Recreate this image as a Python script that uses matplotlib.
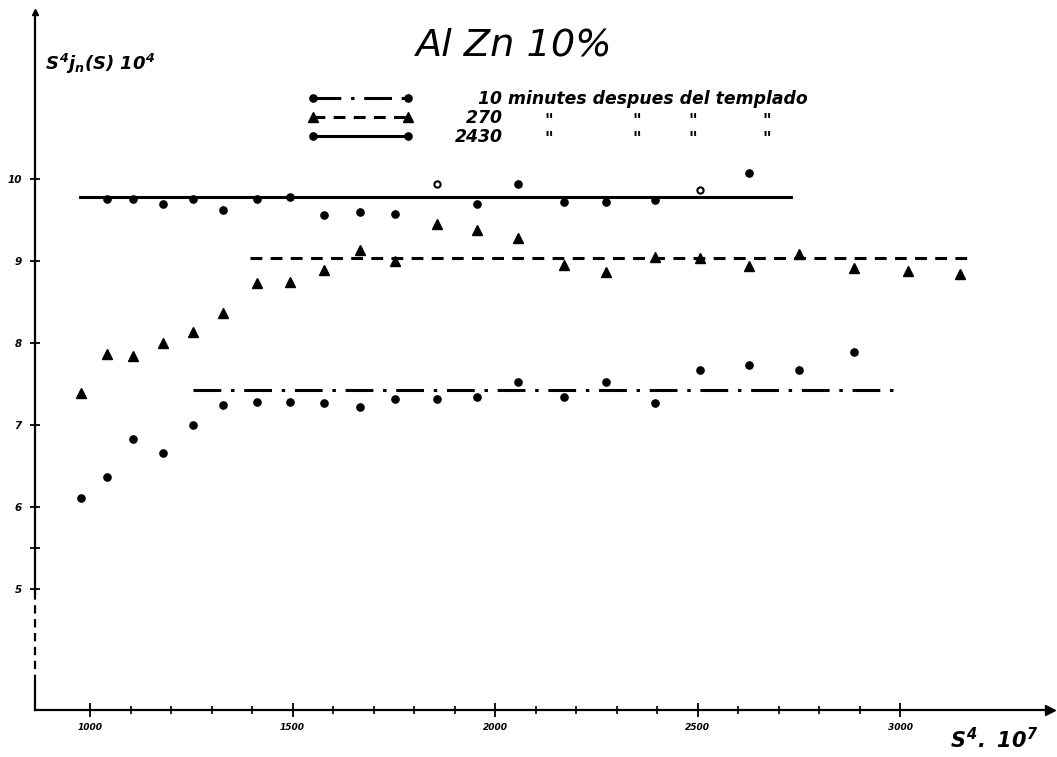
import matplotlib
import matplotlib.pyplot as plt
from matplotlib.lines import Line2D

matplotlib.use("Agg")

plt.rcParams.update({
    "font.family": "DejaVu Sans",
    "mathtext.fontset": "custom",
    "mathtext.rm": "DejaVu Sans:bold:italic",
    "mathtext.it": "DejaVu Sans:bold:italic",
    "mathtext.bf": "DejaVu Sans:bold:italic",
    "lines.scale_dashes": False,
})

# s^4 . 10^7 positions of the measured points
s4 = [977, 1042, 1106, 1179, 1255, 1329, 1413, 1493, 1578, 1666, 1754,
      1856, 1956, 2057, 2169, 2273, 2395, 2505, 2626, 2750, 2887, 3020, 3148]

# 10 minutes after quenching (dots), first 21 positions
t10 = [6.11, 6.36, 6.82, 6.65, 6.99, 7.24, 7.27, 7.28, 7.26, 7.21, 7.31,
       7.31, 7.34, 7.52, 7.33, 7.52, 7.26, 7.67, 7.73, 7.66, 7.88]

# 270 minutes (triangles), all positions
t270 = [7.39, 7.86, 7.83, 7.99, 8.13, 8.36, 8.73, 8.74, 8.88, 9.13, 9.00,
        9.44, 9.37, 9.28, 8.95, 8.86, 9.04, 9.03, 8.93, 9.08, 8.91, 8.87, 8.83]

# 2430 minutes (dots), positions 1..18; two of them drawn hollow
t2430 = [9.75, 9.75, 9.69, 9.75, 9.61, 9.75, 9.77, 9.56, 9.59, 9.57, 9.93,
         9.69, 9.93, 9.71, 9.71, 9.74, 9.86, 10.07]
t2430_open = [10, 16]

# plateau levels and their extents
level_10, span_10 = 7.42, (1255, 2997)
level_270, span_270 = 9.03, (1395, 3179)
level_2430, span_2430 = 9.77, (975, 2731)

DASHED = (0, (8.5, 6))
DASHDOT = (0, (20, 7, 2.5, 7))
LW = 2.2
bi = dict(weight="bold", style="italic")

W, H = 1057, 757
fig = plt.figure(figsize=(W / 100, H / 100), dpi=100)
ax = fig.add_axes([35 / W, 1 - 710 / H, 1015 / W, 698 / H])
ax.set_xlim(864, 3370)
ax.set_ylim(3.52, 12.03)

# fitted plateaus
ax.plot(span_2430, [level_2430] * 2, color="k", lw=LW, ls="-")
ax.plot(span_270, [level_270] * 2, color="k", lw=LW, ls=DASHED)
ax.plot(span_10, [level_10] * 2, color="k", lw=LW, ls=DASHDOT)

# measured points
ax.plot(s4[:len(t10)], t10, "o", color="k", ms=5.2, ls="none")
ax.plot(s4, t270, "^", color="k", ms=7.5, ls="none")
x2430 = s4[1:1 + len(t2430)]
filled = [i for i in range(len(t2430)) if i not in t2430_open]
ax.plot([x2430[i] for i in filled], [t2430[i] for i in filled],
        "o", color="k", ms=5.2, ls="none")
ax.plot([x2430[i] for i in t2430_open], [t2430[i] for i in t2430_open],
        "o", mfc="white", mec="k", mew=1.5, ms=4.5, ls="none")

# axes styling
for side in ("top", "right"):
    ax.spines[side].set_visible(False)
ax.spines["left"].set_linewidth(1.6)
ax.spines["bottom"].set_linewidth(1.6)
ax.spines["left"].set_bounds(4.95, 12.03)
x0 = ax.get_xlim()[0]
ax.plot([x0, x0], [3.85, 4.95], color="k", lw=1.6, ls=(0, (6, 4)),
        clip_on=False)
ax.plot([x0, x0], [3.52, 3.85], color="k", lw=1.6, clip_on=False)
ax.plot(0, 1, "^", color="k", ms=5, transform=ax.transAxes, clip_on=False)
ax.plot(1, 0, ">", color="k", ms=7, transform=ax.transAxes, clip_on=False)

ax.set_yticks([5, 6, 7, 8, 9, 10])
ax.set_yticklabels(["5", "6", "7", "8", "9", "10"], fontsize=7.5, **bi)
ax.set_yticks([5.5], minor=True)
ax.tick_params(axis="y", which="both", direction="inout", length=7,
               width=1.3, pad=6)

ax.set_xticks([1000, 1500, 2000, 2500, 3000])
ax.set_xticklabels(["1000", "1500", "2000", "2500", "3000"],
                   fontsize=6.5, **bi)
ax.set_xticks([v for v in range(1100, 3000, 100) if v % 500], minor=True)
ax.tick_params(axis="x", which="major", direction="inout", length=10,
               width=1.3, pad=4)
ax.tick_params(axis="x", which="minor", direction="inout", length=6,
               width=1.2)

# titles
fig.text(513 / W, 1 - 45 / H, "Al Zn 10%", fontsize=27.5, style="italic",
         ha="center", va="center")
fig.text(45 / W, 1 - 64 / H, r"$S^4 j_n(S)\ 10^4$", fontsize=13,
         ha="left", va="center")
fig.text(950 / W, 1 - 740 / H, r"$S^4 .\ 10^7$", fontsize=15,
         ha="left", va="center")

# key
handles = [
    Line2D([], [], color="k", lw=LW, ls=DASHDOT, marker="o", ms=5.2),
    Line2D([], [], color="k", lw=LW, ls=DASHED, marker="^", ms=7.5),
    Line2D([], [], color="k", lw=LW, ls="-", marker="o", ms=5.2),
]
labels = ["    10 minutes despues del templado", "  270", "2430"]
fig.legend(handles, labels, loc="upper left",
           bbox_to_anchor=(308 / W, 1 - 90 / H), frameon=False, numpoints=2,
           handlelength=6.1, handletextpad=2.4, borderpad=0,
           borderaxespad=0, labelspacing=0.05,
           prop=dict(size=12.4, **bi))
for yp in (121, 139):
    for xp in (549, 637, 693, 767):
        fig.text(xp / W, 1 - yp / H, '"', fontsize=12, ha="center",
                 va="center", **bi)

fig.savefig("out.png", dpi=100)
